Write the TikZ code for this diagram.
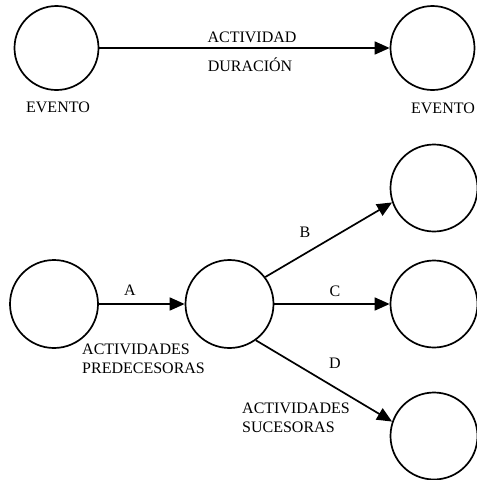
\documentclass[tikz,border=0pt]{standalone}
\usepackage{fontspec}
\setmainfont{Liberation Serif}
\usetikzlibrary{arrows.meta}
\tikzset{
  evt/.style={circle, draw, line width=1.7pt, inner sep=0pt, minimum size=#1},
  evt/.default=84pt,
  conn/.style={line width=1.7pt, -{Triangle[length=15pt,width=13pt]}},
  lbl/.style={inner sep=0pt, font=\fontsize{16}{18.5}\selectfont},
}
\begin{document}
\begin{tikzpicture}[x=1pt,y=-1pt]
  \useasboundingbox (0,0) rectangle (477,480);

  % single activity between two events
  \node[evt] (e1) at (56.5,48) {};
  \node[evt] (e2) at (432.5,48) {};
  \draw[conn] (e1) -- (e2);
  \node[lbl] at (252,37) {ACTIVIDAD};
  \node[lbl] at (250,65) {DURACIÓN};
  \node[lbl] at (58,107) {EVENTO};
  \node[lbl] at (443,108) {EVENTO};

  % predecessor and successor activities
  \node[evt=88pt] (p) at (54,304) {};
  \node[evt=88pt] (m) at (229.5,304) {};
  \node[evt=87pt] (sb) at (434,188) {};
  \node[evt=87pt] (sc) at (434,304) {};
  \node[evt=87pt] (sd) at (434,436) {};
  \draw[conn] (p) -- (m);
  \draw[conn] (m.37.6) -- (sb.199);
  \draw[conn] (m) -- (sc);
  \draw[conn] (m.-54.7) -- (sd.161);
  \node[lbl] at (130,290) {A};
  \node[lbl] at (305,232) {B};
  \node[lbl] at (335,291) {C};
  \node[lbl] at (335,363) {D};
  \node[lbl, align=left, anchor=west] at (82,359) {ACTIVIDADES\\PREDECESORAS};
  \node[lbl, align=left, anchor=west] at (242,418) {ACTIVIDADES\\SUCESORAS};
\end{tikzpicture}
\end{document}
